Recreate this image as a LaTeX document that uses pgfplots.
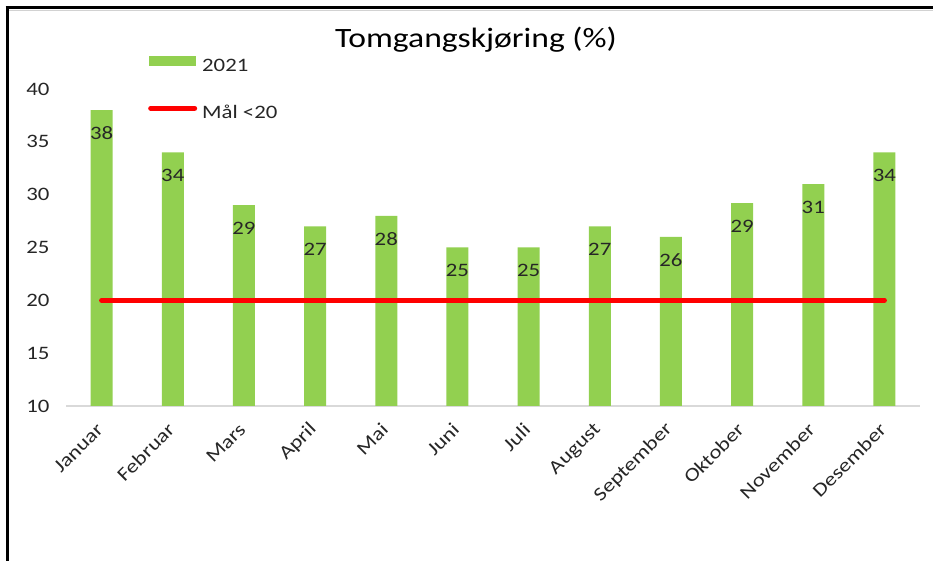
\documentclass[border=0pt]{standalone}
\usepackage{fontspec}
\setmainfont{Carlito}[FakeStretch=1.2]
\usepackage{pgfplots}
\pgfplotsset{compat=1.18}
\definecolor{bargreen}{HTML}{92D050}
\definecolor{txt}{HTML}{262626}
\definecolor{axgray}{HTML}{D9D9D9}
\begin{document}
\begin{tikzpicture}
\path[use as bounding box] (0pt,0pt) rectangle (933pt,561pt);
\draw[line width=0.8pt, gray!35] (9pt,551pt) -- (933pt,551pt);
\draw[line width=3pt] (5.5pt,553.5pt) -- (933pt,553.5pt);
\draw[line width=3pt] (7pt,553.5pt) -- (7pt,0pt);
\begin{axis}[
  at={(66pt,155pt)}, anchor=south west,
  scale only axis, width=854pt, height=317pt,
  xmin=-0.5, xmax=11.5, ymin=10, ymax=40,
  ytick={10,15,...,40},
  xtick={0,...,11},
  xticklabels={Januar,Februar,Mars,April,Mai,Juni,Juli,August,September,Oktober,November,Desember},
  axis lines*=left,
  y axis line style={draw=none},
  x axis line style={draw=axgray, line width=1.2pt},
  major tick length=0pt,
  tick style={draw=none},
  /pgf/number format/assume math mode=true,
  ticklabel style={font=\fontsize{19}{22}\selectfont, text=txt},
  yticklabel style={xshift=-13pt},
  xticklabel style={rotate=45, anchor=east, inner sep=2pt},
  xticklabel shift=19pt,
  title={Tomgangskjøring (\%)},
  title style={at={(axis description cs:0.480,1.1356)}, anchor=center, font=\fontsize{28}{32}\selectfont, text=black},
  legend style={at={(axis description cs:0.096,0.9984)}, anchor=west, draw=none, fill=none,
    font=\fontsize{19}{22}\selectfont, text=txt, row sep=30pt, inner sep=0pt,
    nodes={inner sep=0pt, text height=13pt, text depth=4pt},
    /tikz/every odd column/.append style={column sep=5pt}},
  legend cell align=left,
]
\addplot[ybar, bar width=22pt, fill=bargreen, draw=none,
  nodes near coords, point meta=y,
  nodes near coords style={anchor=center, yshift=-23pt, font=\fontsize{19}{22}\selectfont, text=txt,
    /pgf/number format/fixed, /pgf/number format/precision=0},
  legend image code/.code={\fill[bargreen] (0pt,1pt) rectangle (47pt,11pt);}]
  coordinates {(0,38) (1,34) (2,29) (3,27) (4,28) (5,25) (6,25) (7,27) (8,26) (9,29.2) (10,31) (11,34)};
\addlegendentry{2021}
\addplot[red, line width=5pt, line cap=round,
  legend image code/.code={\draw[red, line width=5pt, line cap=round] (2pt,6pt) -- (46pt,6pt);}]
  coordinates {(0,20) (11,20)};
\addlegendentry{Mål <20}
\end{axis}
\end{tikzpicture}
\end{document}
